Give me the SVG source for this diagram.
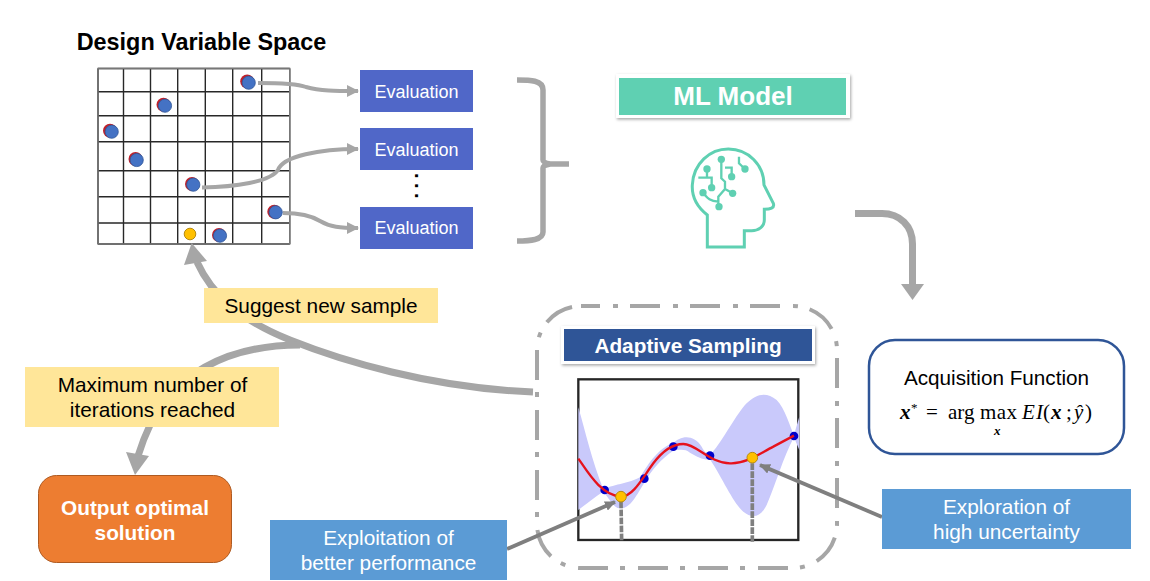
<svg xmlns="http://www.w3.org/2000/svg" width="1150" height="581" viewBox="0 0 1150 581">
<style>
text{font-family:"Liberation Sans",Arial,sans-serif;text-anchor:middle}
.eval{fill:#5067c8}
.evalt{fill:#fff;font-size:18px}
.grid{stroke:#111;stroke-width:1.400;fill:none}
.dotr{fill:#c0202a}
.dotb{fill:#4472c4;stroke:#2f5597;stroke-width:.8}
.doty{fill:#ffc000;stroke:#b58a10;stroke-width:1}
.thin{fill:none;stroke:#a6a6a6;stroke-width:4}
.thick{fill:none;stroke:#a6a6a6;stroke-width:7}
.head{fill:#a6a6a6}
.lab{fill:#ffe699}
.labt{fill:#000;font-size:20.800px}
.blue{fill:#5b9bd5}
.bluet{fill:#fff;font-size:20.800px}
.teal{fill:none;stroke:#5fd0b2;stroke-width:9;stroke-linejoin:miter}
.tealf{fill:#5fd0b2}
.math{font-family:"Liberation Serif","DejaVu Serif",serif;font-size:21px;fill:#000;text-anchor:start}
.mb{font-weight:bold;font-style:italic}
</style>
<defs>
<filter id="sh" x="-5%" y="-20%" width="110%" height="140%"><feDropShadow dx="1" dy="1.500" stdDeviation="1.500" flood-color="#000" flood-opacity=".35"/></filter>
<marker id="ah" markerWidth="13" markerHeight="12" refX="11" refY="6" orient="auto" markerUnits="userSpaceOnUse"><path d="M0,0L12,6L0,12Z" fill="#a6a6a6"/></marker>
<marker id="ad" markerWidth="12" markerHeight="10" refX="10" refY="5" orient="auto" markerUnits="userSpaceOnUse"><path d="M0,0L11,5L0,10Z" fill="#7f7f7f"/></marker>
</defs>
<rect width="1150" height="581" fill="#fff"/>

<g id="title"><text x="201.500" y="50" style="font-size:23.400px;font-weight:bold">Design Variable Space</text></g>

<g id="design-grid">
<path class="grid" d="M98,68.500V244M123.500,68.500V244M150.500,68.500V244M177.700,68.500V244M205.300,68.500V244M232.700,68.500V244M261.700,68.500V244M289.700,68.500V244M98,68.500H289.700M98,91.700H289.700M98,115.700H289.700M98,141.700H289.700M98,170.700H289.700M98,196.700H289.700M98,223H289.700M98,244H289.700" stroke-opacity=".9"/>
<path d="M98,68.500H289.700V244H98Z" fill="none" stroke="#777" stroke-width="1.400"/>
<circle class="dotr" cx="247.200" cy="81.500" r="7"/><circle class="dotb" cx="248.700" cy="82.700" r="6.600"/>
<circle class="dotr" cx="163.500" cy="104.800" r="7"/><circle class="dotb" cx="165" cy="105.700" r="6.600"/>
<circle class="dotr" cx="110" cy="130.700" r="7"/><circle class="dotb" cx="111.700" cy="131.700" r="6.600"/>
<circle class="dotr" cx="135.500" cy="159" r="7"/><circle class="dotb" cx="136.700" cy="160" r="6.600"/>
<circle class="dotr" cx="192" cy="184" r="7"/><circle class="dotb" cx="193.300" cy="184.700" r="6.600"/>
<circle class="dotr" cx="274.300" cy="211.700" r="7"/><circle class="dotb" cx="275.700" cy="212.300" r="6.600"/>
<circle class="dotr" cx="219" cy="235" r="7"/><circle class="dotb" cx="220" cy="235.700" r="6.600"/>
<circle class="doty" cx="190" cy="234" r="5.800"/>
</g>

<g id="connectors">
<path class="thin" marker-end="url(#ah)" d="M258,83C285,83 298,84 306,87C320,91 335,91 358,91"/>
<path class="thin" marker-end="url(#ah)" d="M202,187.500C235,187 270,182 278,170C283,156 320,149 358,149"/>
<path class="thin" marker-end="url(#ah)" d="M283,213C300,213 312,216 320,221C330,227 340,228 358,228"/>
<path class="thin" style="stroke-width:5.500" d="M517,80C530,80 543,80 543,90V160C543,162 545,163 550,164H569M550,164C545,165 543,166 543,168V232C543,240 530,241 517,241"/>
<path class="thick" d="M855,213.500H882C900,213.500 912.500,226 912.500,244V285"/>
<path class="head" d="M901,284H924L912.500,300Z"/>
<path class="thick" d="M533,392C430,388 340,360 290,340C240,320 212,295 197,262"/>
<path class="head" d="M184,265L207,261L191.700,243Z"/>
<path class="thick" d="M300,345C240,345 195,365 165,400C150,420 143,440 138,456"/>
<path class="head" d="M126,452L149,456L135,475Z"/>
</g>

<g id="evaluation-1"><rect class="eval" x="360" y="70" width="113" height="42"/><text class="evalt" x="416.500" y="98">Evaluation</text></g>
<g id="evaluation-2"><rect class="eval" x="360" y="128" width="113" height="42"/><text class="evalt" x="416.500" y="156">Evaluation</text></g>
<g id="ellipsis"><text transform="translate(415 173) rotate(90)" style="font-size:20px;font-weight:bold;letter-spacing:4.500px;text-anchor:start">...</text></g>
<g id="evaluation-3"><rect class="eval" x="360" y="207" width="113" height="42"/><text class="evalt" x="416.500" y="234">Evaluation</text></g>

<g id="ml-model"><rect x="616" y="74" width="234" height="44" fill="#fff" filter="url(#sh)"/><rect x="619" y="78" width="227" height="37" fill="#5fd0b2"/><text x="733" y="105" style="font-size:26px;font-weight:bold;fill:#fff">ML Model</text></g>

<g id="brain-icon" transform="translate(610 65) scale(.3333)">
<path class="teal" d="M292,546V450C260,425 245,395 247,360C250,295 300,252 355,252C415,252 462,300 462,360L490,415C495,430 480,433 463,433V465C463,485 445,497 425,497H403V546Z"/>
<path class="teal" style="stroke-width:7" d="M291,312V338M265,338H305V368M334,283V340L345,350V372L325,395V425M345,308H365V335M345,372L368,385M279,383C290,395 295,408 325,410M387,275V295L405,312"/>
<circle class="tealf" cx="291" cy="312" r="11"/><circle class="tealf" cx="305" cy="368" r="11"/><circle class="tealf" cx="334" cy="283" r="11"/><circle class="tealf" cx="365" cy="335" r="11"/><circle class="tealf" cx="368" cy="385" r="11"/><circle class="tealf" cx="279" cy="383" r="11"/><circle class="tealf" cx="327" cy="425" r="11"/><circle class="tealf" cx="405" cy="312" r="11"/>
</g>

<g id="acquisition-function">
<rect x="869" y="340" width="255" height="114" rx="26" fill="#fff" stroke="#2f5597" stroke-width="2.500"/>
<text x="996.500" y="385" style="font-size:20.700px">Acquisition Function</text>
<text class="math mb" x="900" y="419">x</text>
<text class="math" x="911" y="412" style="font-size:13px">*</text>
<text class="math" x="926" y="419" textLength="15">=</text>
<text class="math" x="948" y="419">arg</text>
<text class="math" x="980" y="419" textLength="37">max</text>
<text class="math mb" x="994" y="435" style="font-size:13px">x</text>
<text class="math" x="1022" y="419" style="font-style:italic" textLength="21">EI</text>
<text class="math" x="1043" y="419">(</text>
<text class="math mb" x="1051" y="419">x</text>
<text class="math" x="1066" y="419">;</text>
<text class="math" x="1074" y="419" style="font-style:italic">ŷ</text>
<text class="math" x="1085" y="419">)</text>
</g>

<g id="adaptive-sampling">
<rect x="537" y="306" width="300" height="262" rx="44" fill="none" stroke="#a6a6a6" stroke-width="4" stroke-dasharray="30 13 5 12" stroke-dashoffset="11"/>
<rect x="561" y="326" width="254" height="38" fill="#fff" filter="url(#sh)"/>
<rect x="564" y="329" width="248" height="32" fill="#2f5597"/>
<text x="688" y="353" style="font-size:20.800px;font-weight:bold;fill:#fff">Adaptive Sampling</text>
<g id="gp-plot" transform="translate(520 300) scale(.3333)">
<rect x="175" y="238" width="660" height="482" fill="#fff" stroke="#262626" stroke-width="7"/>
<path fill="#c9c9fb" d="M175,322C195,390 215,480 250,568C270,555 330,550 362,530C385,490 420,440 460,430C480,408 520,400 545,440C555,460 565,465 575,460C610,420 650,340 680,310C710,280 740,275 770,300C795,325 810,380 822,405L838,350V450L822,412C790,470 765,560 740,615C720,655 695,655 670,635C640,610 610,540 570,478C555,482 530,470 510,458C495,445 475,450 460,452C425,475 395,510 375,545C350,585 330,628 300,625C280,625 265,590 250,575C225,590 195,615 175,630Z"/>
<g fill="#0000cc"><circle cx="254" cy="570" r="13"/><circle cx="373" cy="536" r="13"/><circle cx="460" cy="440" r="13"/><circle cx="570" cy="467" r="13"/><circle cx="822" cy="408" r="13"/></g>
<path fill="none" stroke="#e6121c" stroke-width="7" d="M175,476C200,510 240,585 303,590C340,590 370,530 400,490C430,450 460,432 490,432C530,432 570,490 630,490C680,492 720,460 760,440L822,407"/>
<path fill="none" stroke="#7f7f7f" stroke-width="11" stroke-dasharray="20 4" d="M303,605L305,725M697,490V725"/>
<circle cx="303" cy="590" r="16" fill="#ffc000" stroke="#b58a10" stroke-width="3"/>
<circle cx="697" cy="473" r="16" fill="#ffc000" stroke="#b58a10" stroke-width="3"/>
</g>
<path fill="none" stroke="#7f7f7f" stroke-width="3.800" marker-end="url(#ad)" d="M507,549L615,502"/>
<path fill="none" stroke="#7f7f7f" stroke-width="3.800" marker-end="url(#ad)" d="M882,517L760,465"/>
</g>

<g id="suggest-label"><rect class="lab" x="204" y="288" width="234" height="35"/><text class="labt" x="321" y="313">Suggest new sample</text></g>
<g id="max-label"><rect class="lab" x="25" y="367" width="254" height="60"/><text class="labt" x="152.500" y="392">Maximum number of</text><text class="labt" x="152.500" y="417">iterations reached</text></g>
<g id="output"><rect x="38.500" y="475.500" width="193" height="87" rx="18" fill="#ed7d31" stroke="#ae5a21" stroke-width="1"/><text x="135" y="515" style="font-size:20.800px;font-weight:bold;fill:#fff">Output optimal</text><text x="135" y="540" style="font-size:20.800px;font-weight:bold;fill:#fff">solution</text></g>
<g id="exploitation"><rect class="blue" x="270" y="520" width="237" height="60"/><text class="bluet" x="388.500" y="545">Exploitation of</text><text class="bluet" x="388.500" y="570">better performance</text></g>
<g id="exploration"><rect class="blue" x="882" y="489" width="249" height="60"/><text class="bluet" x="1006.500" y="514">Exploration of</text><text class="bluet" x="1006.500" y="539">high uncertainty</text></g>
</svg>
